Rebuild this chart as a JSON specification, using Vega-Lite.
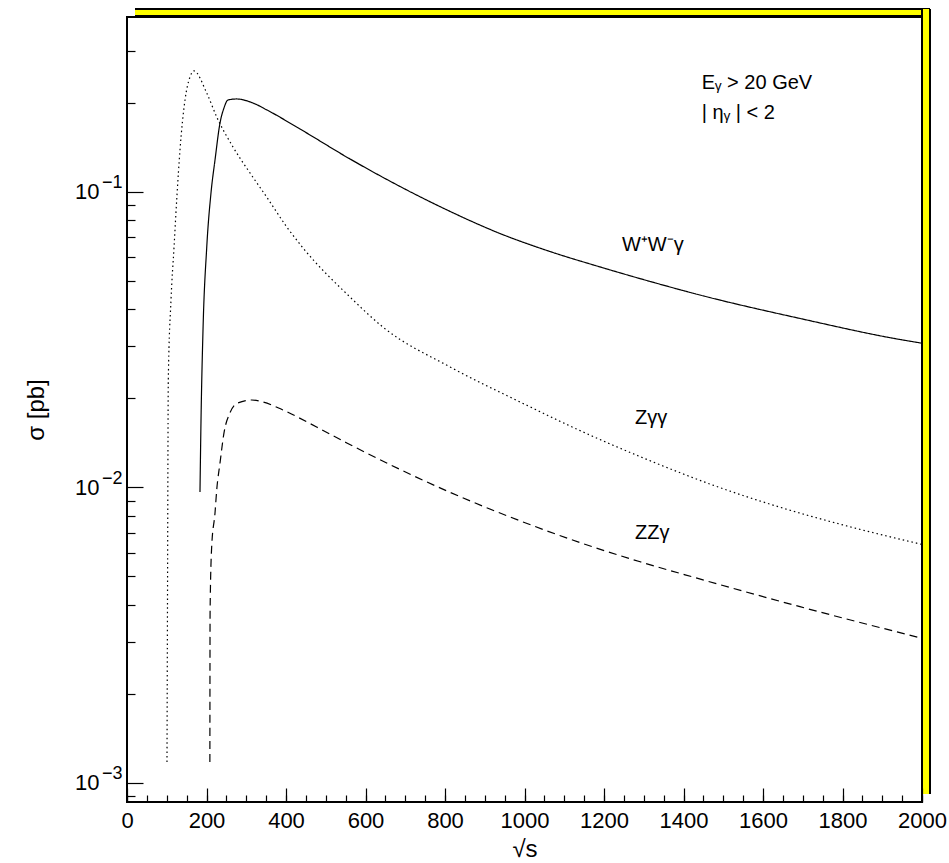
{
  "$schema": "https://vega.github.io/schema/vega-lite/v6.json",
  "width": 795,
  "height": 785,
  "autosize": {"type": "none"},
  "padding": {"left": 127, "top": 17, "right": 27, "bottom": 61},
  "background": "white",
  "config": {
    "view": {"stroke": "black", "strokeWidth": 2},
    "font": "Liberation Sans",
    "axis": {"grid": false, "labelFont": "Liberation Sans", "titleFont": "Liberation Sans", "labelColor": "black", "titleColor": "black", "tickColor": "black", "domainColor": "black", "titleFontWeight": "normal"}
  },
  "datasets": {
    "curves": [
      {"process": "WWg", "s": 183.6, "sigma": 0.00963},
      {"process": "WWg", "s": 186.2, "sigma": 0.01688},
      {"process": "WWg", "s": 191.2, "sigma": 0.034},
      {"process": "WWg", "s": 200.5, "sigma": 0.0645},
      {"process": "WWg", "s": 211.3, "sigma": 0.099},
      {"process": "WWg", "s": 221.4, "sigma": 0.128},
      {"process": "WWg", "s": 234, "sigma": 0.1708},
      {"process": "WWg", "s": 244, "sigma": 0.192},
      {"process": "WWg", "s": 254, "sigma": 0.2043},
      {"process": "WWg", "s": 276, "sigma": 0.2059},
      {"process": "WWg", "s": 317, "sigma": 0.1995},
      {"process": "WWg", "s": 352, "sigma": 0.189},
      {"process": "WWg", "s": 435, "sigma": 0.163},
      {"process": "WWg", "s": 561, "sigma": 0.129},
      {"process": "WWg", "s": 687, "sigma": 0.1041},
      {"process": "WWg", "s": 813, "sigma": 0.0857},
      {"process": "WWg", "s": 938, "sigma": 0.0722},
      {"process": "WWg", "s": 1064, "sigma": 0.06273},
      {"process": "WWg", "s": 1190, "sigma": 0.05562},
      {"process": "WWg", "s": 1316, "sigma": 0.04967},
      {"process": "WWg", "s": 1441, "sigma": 0.0447},
      {"process": "WWg", "s": 1693, "sigma": 0.03723},
      {"process": "WWg", "s": 1944, "sigma": 0.03161},
      {"process": "WWg", "s": 2000, "sigma": 0.0307},
      {"process": "Zgg", "s": 100.6, "sigma": 0.001175},
      {"process": "Zgg", "s": 101.9, "sigma": 0.00415},
      {"process": "Zgg", "s": 103.9, "sigma": 0.02307},
      {"process": "Zgg", "s": 110.7, "sigma": 0.043},
      {"process": "Zgg", "s": 118.2, "sigma": 0.0645},
      {"process": "Zgg", "s": 125.8, "sigma": 0.0975},
      {"process": "Zgg", "s": 133.3, "sigma": 0.1384},
      {"process": "Zgg", "s": 145.9, "sigma": 0.2043},
      {"process": "Zgg", "s": 158.5, "sigma": 0.2444},
      {"process": "Zgg", "s": 168.6, "sigma": 0.2562},
      {"process": "Zgg", "s": 200.5, "sigma": 0.2158},
      {"process": "Zgg", "s": 225.7, "sigma": 0.179},
      {"process": "Zgg", "s": 266.7, "sigma": 0.1416},
      {"process": "Zgg", "s": 309.4, "sigma": 0.1157},
      {"process": "Zgg", "s": 351.4, "sigma": 0.0959},
      {"process": "Zgg", "s": 401.8, "sigma": 0.076},
      {"process": "Zgg", "s": 442.8, "sigma": 0.0645},
      {"process": "Zgg", "s": 561, "sigma": 0.044},
      {"process": "Zgg", "s": 644, "sigma": 0.0348},
      {"process": "Zgg", "s": 813, "sigma": 0.0255},
      {"process": "Zgg", "s": 981, "sigma": 0.01965},
      {"process": "Zgg", "s": 1140, "sigma": 0.01553},
      {"process": "Zgg", "s": 1308, "sigma": 0.01241},
      {"process": "Zgg", "s": 1474, "sigma": 0.01016},
      {"process": "Zgg", "s": 1643, "sigma": 0.00855},
      {"process": "Zgg", "s": 1811, "sigma": 0.00739},
      {"process": "Zgg", "s": 2000, "sigma": 0.0064},
      {"process": "ZZg", "s": 208.5, "sigma": 0.001175},
      {"process": "ZZg", "s": 209, "sigma": 0.00375},
      {"process": "ZZg", "s": 213, "sigma": 0.00627},
      {"process": "ZZg", "s": 221.4, "sigma": 0.00818},
      {"process": "ZZg", "s": 225.7, "sigma": 0.00978},
      {"process": "ZZg", "s": 234, "sigma": 0.01208},
      {"process": "ZZg", "s": 244, "sigma": 0.01526},
      {"process": "ZZg", "s": 259, "sigma": 0.01783},
      {"process": "ZZg", "s": 279, "sigma": 0.01928},
      {"process": "ZZg", "s": 313.7, "sigma": 0.01972},
      {"process": "ZZg", "s": 342, "sigma": 0.01942},
      {"process": "ZZg", "s": 392, "sigma": 0.01825},
      {"process": "ZZg", "s": 477, "sigma": 0.01598},
      {"process": "ZZg", "s": 553, "sigma": 0.01411},
      {"process": "ZZg", "s": 687, "sigma": 0.01148},
      {"process": "ZZg", "s": 813, "sigma": 0.0096},
      {"process": "ZZg", "s": 989, "sigma": 0.00769},
      {"process": "ZZg", "s": 1140, "sigma": 0.00649},
      {"process": "ZZg", "s": 1291, "sigma": 0.00559},
      {"process": "ZZg", "s": 1434, "sigma": 0.00492},
      {"process": "ZZg", "s": 1693, "sigma": 0.00394},
      {"process": "ZZg", "s": 2000, "sigma": 0.00308}
    ],
    "labelsZ": [
      {"s": 1278, "sigma": 0.01715, "label": "Zγγ"},
      {"s": 1278, "sigma": 0.0070, "label": "ZZγ"}
    ],
    "labelW": [{"s": 1245, "sigma": 0.0659, "label": "W⁺W⁻γ"}],
    "note1": [{"s": 1446, "sigma": 0.2333, "label": "Eᵧ > 20 GeV"}],
    "note2": [{"s": 1446, "sigma": 0.1846, "label": "| ηᵧ | < 2"}]
  },
  "layer": [
    {
      "data": {"name": "curves"},
      "mark": {"type": "line", "color": "black", "strokeWidth": 1.2, "interpolate": "monotone", "clip": true},
      "encoding": {
        "x": {"field": "s", "type": "quantitative", "scale": {"domain": [0, 2000], "nice": false, "zero": false},
          "axis": {"orient": "bottom", "zindex": 1, "values": [0, 200, 400, 600, 800, 1000, 1200, 1400, 1600, 1800, 2000], "format": "d", "ticks": true, "tickSize": -14, "tickWidth": 1.2, "tickColor": "black", "domain": false, "labelFontSize": 22, "labelPadding": 22, "labelFlush": false, "labelOverlap": false, "labelBound": false, "title": "√s", "titleFontSize": 24, "titlePadding": 6}},
        "y": {"field": "sigma", "type": "quantitative", "scale": {"type": "log", "domain": [0.00086, 0.39], "nice": false},
          "axis": {"orient": "left", "zindex": 1, "values": [0.001, 0.01, 0.1], "ticks": true, "tickSize": -16, "tickWidth": 1.2, "tickColor": "black", "domain": false, "labelFontSize": 22, "labelPadding": 44, "labelFlush": false, "labelOverlap": false,
            "labelExpr": "'10'", "title": "σ [pb]", "titleFontSize": 24, "titlePadding": 26}},
        "strokeDash": {"field": "process", "type": "nominal", "scale": {"domain": ["WWg", "Zgg", "ZZg"], "range": [[1, 0], [1.5, 3], [8, 5]]}, "legend": null}
      }
    },
    {
      "data": {"name": "labelsZ"},
      "mark": {"type": "text", "align": "left", "baseline": "middle", "fontSize": 20, "color": "black"},
      "encoding": {
        "x": {"field": "s", "type": "quantitative", "scale": {"domain": [0, 2000], "nice": false, "zero": false},
          "axis": {"orient": "bottom", "zindex": 1, "values": [0,50,100,150,200,250,300,350,400,450,500,550,600,650,700,750,800,850,900,950,1000,1050,1100,1150,1200,1250,1300,1350,1400,1450,1500,1550,1600,1650,1700,1750,1800,1850,1900,1950,2000], "ticks": true, "tickSize": -7, "tickWidth": 1.2, "tickColor": "black", "labels": false, "domain": false, "title": null}},
        "y": {"field": "sigma", "type": "quantitative", "scale": {"type": "log", "domain": [0.00086, 0.39], "nice": false},
          "axis": {"orient": "left", "zindex": 1, "values": [0.0009, 0.002, 0.003, 0.004, 0.005, 0.006, 0.007, 0.008, 0.009, 0.02, 0.03, 0.04, 0.05, 0.06, 0.07, 0.08, 0.09, 0.2, 0.3], "ticks": true, "tickSize": -8, "tickWidth": 1.2, "tickColor": "black", "labels": false, "domain": false, "title": null}},
        "text": {"field": "label"}
      }
    },
    {
      "data": {"name": "labelW"},
      "mark": {"type": "text", "align": "left", "baseline": "middle", "fontSize": 20, "color": "black"},
      "encoding": {
        "x": {"field": "s", "type": "quantitative", "scale": {"domain": [0, 2000], "nice": false, "zero": false}, "axis": null},
        "y": {"field": "sigma", "type": "quantitative", "scale": {"type": "log", "domain": [0.00086, 0.39], "nice": false},
          "axis": {"orient": "left", "values": [0.001, 0.01, 0.1], "ticks": false, "domain": false, "labelFontSize": 18, "labelPadding": 5, "labelOffset": -9, "labelFlush": false, "labelOverlap": false,
            "labelExpr": "datum.value < 0.005 ? '−3' : datum.value < 0.05 ? '−2' : '−1'", "title": null}},
        "text": {"field": "label"}
      }
    },
    {
      "data": {"name": "note1"},
      "mark": {"type": "text", "align": "left", "baseline": "middle", "fontSize": 20, "color": "black"},
      "encoding": {
        "x": {"field": "s", "type": "quantitative", "scale": {"domain": [0, 2000], "nice": false, "zero": false},
          "axis": {"orient": "top", "ticks": false, "labels": false, "domain": true, "domainColor": "black", "domainWidth": 9, "offset": 12.5, "translate": 8, "title": null}},
        "y": {"field": "sigma", "type": "quantitative", "scale": {"type": "log", "domain": [0.00086, 0.39], "nice": false},
          "axis": {"orient": "right", "ticks": false, "labels": false, "domain": true, "domainColor": "black", "domainWidth": 10, "offset": 12, "translate": -8, "title": null}},
        "text": {"field": "label"}
      }
    },
    {
      "data": {"name": "note2"},
      "mark": {"type": "text", "align": "left", "baseline": "middle", "fontSize": 20, "color": "black"},
      "encoding": {
        "x": {"field": "s", "type": "quantitative", "scale": {"domain": [0, 2000], "nice": false, "zero": false},
          "axis": {"orient": "top", "ticks": false, "labels": false, "domain": true, "domainColor": "#ffff00", "domainWidth": 5, "offset": 12.5, "translate": 8, "title": null}},
        "y": {"field": "sigma", "type": "quantitative", "scale": {"type": "log", "domain": [0.00086, 0.39], "nice": false},
          "axis": {"orient": "right", "ticks": false, "labels": false, "domain": true, "domainColor": "#ffff00", "domainWidth": 6, "offset": 12, "translate": -8, "title": null}},
        "text": {"field": "label"}
      }
    }
  ],
  "resolve": {"axis": {"x": "independent", "y": "independent"}}
}
